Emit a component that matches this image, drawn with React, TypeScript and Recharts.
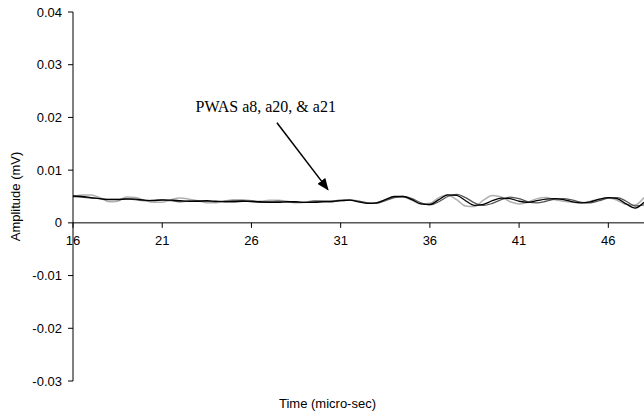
import { LineChart, Line, XAxis, YAxis, ReferenceLine, ReferenceDot, Label } from "recharts";

// time axis (micro-sec), sampled every 0.5
const TIME = [
  16, 16.5, 17, 17.5, 18, 18.5, 19, 19.5, 20, 20.5, 21, 21.5, 22, 22.5, 23, 23.5,
  24, 24.5, 25, 25.5, 26, 26.5, 27, 27.5, 28, 28.5, 29, 29.5, 30, 30.5, 31, 31.5,
  32, 32.5, 33, 33.5, 34, 34.5, 35, 35.5, 36, 36.5, 37, 37.5, 38, 38.5, 39, 39.5,
  40, 40.5, 41, 41.5, 42, 42.5, 43, 43.5, 44, 44.5, 45, 45.5, 46, 46.5, 47, 47.5, 48,
];

// amplitudes (mV)
const A8 = [
  0.0051, 0.005, 0.0048, 0.0046, 0.0044, 0.0044, 0.0045, 0.0045, 0.0043, 0.0042, 0.0043, 0.0043, 0.0042, 0.0041, 0.0041, 0.0042,
  0.0041, 0.004, 0.004, 0.0041, 0.0041, 0.004, 0.0039, 0.0039, 0.004, 0.004, 0.0039, 0.0039, 0.004, 0.0041, 0.0042, 0.0043,
  0.004, 0.0037, 0.0038, 0.0044, 0.005, 0.005, 0.0044, 0.0036, 0.0035, 0.0044, 0.0053, 0.0052, 0.0042, 0.0033, 0.0035, 0.0042,
  0.0047, 0.0046, 0.0041, 0.0039, 0.0042, 0.0045, 0.0046, 0.0044, 0.004, 0.0038, 0.004, 0.0045, 0.0048, 0.0046, 0.0036, 0.0028, 0.0039,
];

const A20 = [
  0.005, 0.0049, 0.0047, 0.0046, 0.0045, 0.0045, 0.0046, 0.0044, 0.0042, 0.0043, 0.0044, 0.0042, 0.004, 0.0041, 0.0042, 0.0041,
  0.004, 0.0041, 0.0042, 0.0042, 0.004, 0.0039, 0.004, 0.0041, 0.004, 0.0039, 0.0039, 0.0041, 0.0041, 0.004, 0.0042, 0.0043,
  0.0041, 0.0038, 0.0037, 0.0042, 0.0048, 0.005, 0.0046, 0.0038, 0.0034, 0.004, 0.005, 0.0054, 0.0048, 0.0038, 0.0033, 0.0037,
  0.0044, 0.0049, 0.0046, 0.004, 0.0038, 0.0041, 0.0045, 0.0046, 0.0043, 0.0039, 0.0038, 0.0042, 0.0047, 0.0048, 0.0041, 0.0032, 0.0034,
];

const A21 = [
  0.005, 0.0053, 0.0053, 0.0048, 0.004, 0.0041, 0.0049, 0.0048, 0.0043, 0.0039, 0.0039, 0.0044, 0.0047, 0.0045, 0.0042, 0.0038,
  0.0038, 0.0041, 0.0044, 0.0044, 0.0042, 0.0041, 0.0043, 0.0043, 0.0041, 0.0038, 0.0039, 0.0042, 0.0041, 0.004, 0.0044, 0.0044,
  0.0041, 0.0038, 0.0038, 0.0043, 0.0049, 0.0049, 0.0043, 0.0036, 0.0037, 0.0048, 0.0053, 0.0044, 0.0032, 0.0031, 0.0043, 0.0052,
  0.0049, 0.004, 0.0036, 0.0039, 0.0046, 0.0048, 0.0044, 0.0041, 0.0039, 0.0038, 0.0041, 0.0045, 0.0047, 0.0043, 0.0035, 0.0034, 0.0048,
];

const X_TICKS = [16, 21, 26, 31, 36, 41, 46];
const Y_TICKS = [-0.03, -0.02, -0.01, 0, 0.01, 0.02, 0.03, 0.04];
const X_DOMAIN = [16, 48];
const Y_MIN = -0.03;
const Y_MAX = 0.04;

const W = 644;
const H = 416;
const MARGIN = { top: 12, right: 0, bottom: 0, left: 0 };
const X_AXIS_H = 35;
const PLOT_H = H - MARGIN.top - MARGIN.bottom - X_AXIS_H;
// pixel row of y = 0, where the x axis is drawn
const ZERO_Y = MARGIN.top + (PLOT_H * Y_MAX) / (Y_MAX - Y_MIN);

const SANS = "'Liberation Sans', Arial, sans-serif";
const SERIF = "'Liberation Serif', 'Times New Roman', serif";

const data = TIME.map((t, i) => ({ t, a8: A8[i], a20: A20[i], a21: A21[i] }));

function ZeroTick({ x, payload }: { x: number; payload: { value: number } }) {
  return (
    <g>
      <line x1={x} x2={x} y1={ZERO_Y} y2={ZERO_Y + 5} stroke="#000" />
      <text x={x} y={ZERO_Y + 22} textAnchor="middle" fontSize={13} fontFamily={SANS} fill="#000">
        {payload.value}
      </text>
    </g>
  );
}

export default function App() {
  return (
    <div style={{ position: "absolute", left: 0, top: 0, background: "#fff" }}>
      <LineChart width={W} height={H} data={data} margin={MARGIN}>
        <defs>
          <marker
            id="arrowHead"
            markerWidth="12"
            markerHeight="10"
            refX="11"
            refY="5"
            orient="auto"
            markerUnits="userSpaceOnUse"
          >
            <path d="M0,0 L12,5 L0,10 z" fill="#000" />
          </marker>
        </defs>
        <XAxis
          dataKey="t"
          type="number"
          domain={X_DOMAIN}
          ticks={X_TICKS}
          height={X_AXIS_H}
          axisLine={false}
          tickLine={false}
          tick={(p: any) => <ZeroTick {...p} />}
        >
          <Label
            value="Time (micro-sec)"
            position="insideBottom"
            offset={8}
            dx={-31}
            fontSize={13}
            fontFamily={SANS}
            fill="#000"
          />
        </XAxis>
        <YAxis
          type="number"
          domain={[Y_MIN, Y_MAX]}
          ticks={Y_TICKS}
          width={73}
          tickSize={5}
          tickMargin={6}
          tickFormatter={(v: number) => (v === 0 ? "0" : v.toFixed(2))}
          tick={{ fontSize: 13, fill: "#000", fontFamily: SANS }}
          axisLine={{ stroke: "#000" }}
          tickLine={{ stroke: "#000" }}
        >
          <Label
            value="Amplitude (mV)"
            angle={-90}
            position="insideLeft"
            offset={15}
            fontSize={13}
            fontFamily={SANS}
            fill="#000"
            style={{ textAnchor: "middle" }}
          />
        </YAxis>
        <ReferenceLine y={0} stroke="#000" />
        <Line type="monotone" dataKey="a21" stroke="#b0b0b0" strokeWidth={1.5} dot={false} isAnimationActive={false} />
        <Line type="monotone" dataKey="a20" stroke="#555" strokeWidth={1.3} dot={false} isAnimationActive={false} />
        <Line type="monotone" dataKey="a8" stroke="#000" strokeWidth={1.3} dot={false} isAnimationActive={false} />
        <ReferenceLine
          segment={[
            { x: 27.43, y: 0.019 },
            { x: 30.29, y: 0.0063 },
          ]}
          stroke="#000"
          strokeWidth={1.5}
          markerEnd="url(#arrowHead)"
          ifOverflow="visible"
        />
        <ReferenceDot
          x={26.8}
          y={0.022}
          r={0}
          ifOverflow="visible"
          shape={(p: any) => (
            <text x={p.cx} y={p.cy + 5} textAnchor="middle" fontSize={16} fontFamily={SERIF} fill="#000">
              PWAS a8, a20, &amp; a21
            </text>
          )}
        />
      </LineChart>
    </div>
  );
}
